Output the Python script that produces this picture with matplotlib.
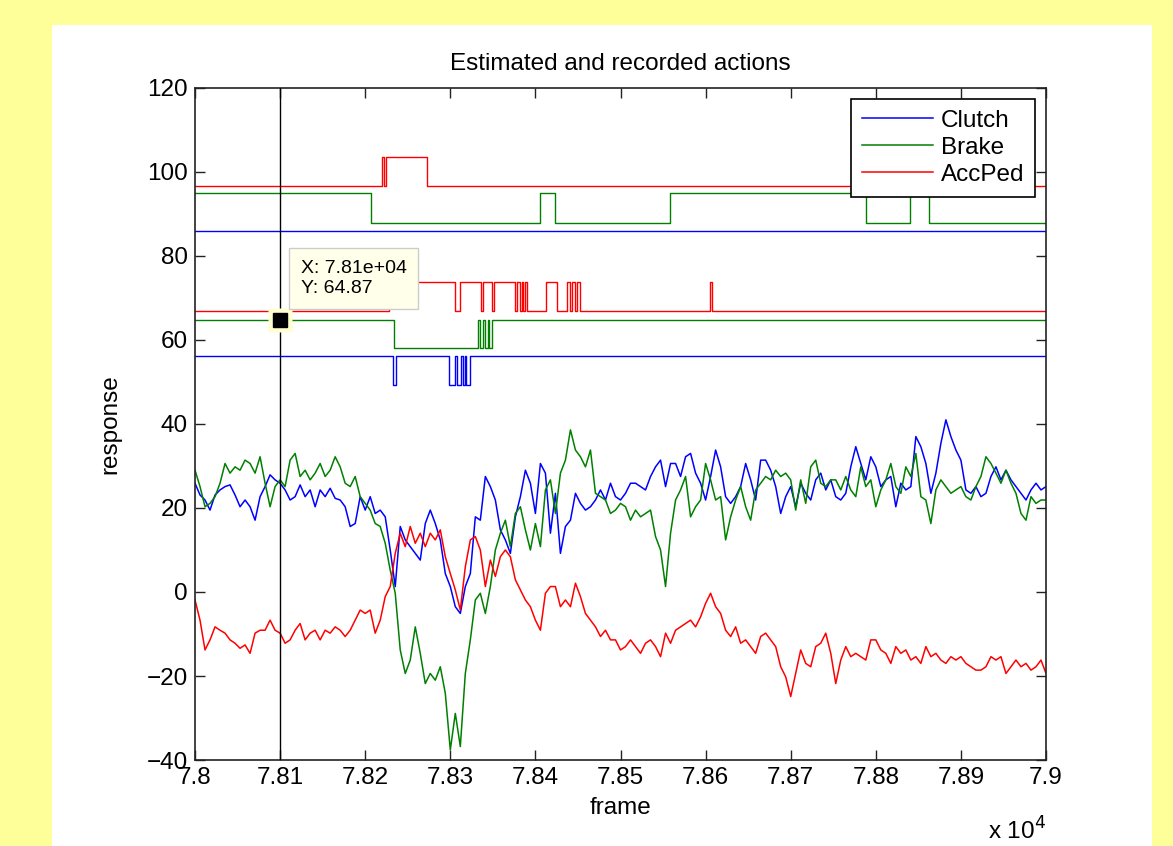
import numpy as np
import matplotlib
matplotlib.use("Agg")
import matplotlib.pyplot as plt
from matplotlib.ticker import FuncFormatter

plt.rcParams['font.family'] = ['Liberation Sans', 'DejaVu Sans']

# ---------------- data ----------------
clutch_est = [25.9, 23.1, 21.9, 19.5, 23.1, 24.3, 25.1, 25.5, 23.1, 20.3, 21.9, 20.3, 17.1, 22.7, 25.1, 27.9, 26.7, 25.9, 24.3, 21.9, 22.7, 25.5, 22.7, 24.3, 20.3, 24.3, 22.7, 24.7, 22.3,
              21.9, 20.3, 15.6, 16.3, 22.7, 19.5, 22.7, 18.7, 19.5, 17.9, 10.0, 1.3, 15.6, 12.4, 10.8, 9.2, 7.6, 16.3, 19.5, 16.3, 12.4, 4.4, 1.3, -3.5, -5.1, 1.3, 4.4, 17.9,
              17.1, 27.5, 25.1, 21.9, 14.8, 12.4, 9.2, 17.9, 22.7, 29.0, 25.9, 18.7, 30.6, 28.3, 14.0, 23.5, 9.2, 15.6, 17.1, 23.5, 21.1, 19.5, 20.3, 21.9, 24.3, 21.9, 25.9, 22.7, 21.9,
              23.5, 25.9, 25.9, 25.1, 24.3, 27.5, 29.8, 31.4, 25.1, 30.6, 30.6, 27.5, 32.2, 33.0, 28.3, 25.9, 21.9, 27.5, 33.8, 29.8, 22.7, 21.1, 22.7, 25.1, 30.6, 26.7, 21.9, 31.4, 31.4,
              29.0, 25.1, 18.7, 22.7, 25.1, 20.3, 25.9, 23.5, 21.9, 26.7, 28.3, 24.3, 26.7, 22.7, 21.9, 23.5, 29.8, 34.6, 30.6, 26.7, 32.2, 29.8, 25.1, 26.7, 27.5, 20.3, 25.9, 24.3,
              25.1, 37.0, 34.6, 30.6, 23.5, 28.3, 35.4, 41.0, 37.0, 33.8, 31.4, 24.3, 23.5, 25.1, 22.7, 23.5, 27.5, 29.8, 26.7, 29.0, 26.7, 25.1, 23.5, 21.9, 24.3, 25.9, 24.3, 25.1]

brake_est = [29.0, 25.1, 20.3, 21.1, 22.7, 25.9, 30.6, 28.3, 29.8, 29.0, 31.4, 30.6, 28.3, 32.2, 25.9, 20.3, 25.1, 26.7, 25.1, 31.4, 33.0, 27.5, 29.0, 26.7, 28.3, 30.6, 27.5, 29.0, 32.2,
             29.8, 25.9, 25.1, 27.5, 22.7, 21.1, 19.5, 16.3, 15.6, 11.6, 5.2, -0.3, -13.8, -19.4, -16.2, -8.3, -14.6, -21.8, -19.4, -21.0, -17.8, -24.1, -37.6, -28.9, -36.8, -19.4, -11.4, -1.9,
             -0.3, -5.1, 1.3, 10.0, 14.0, 17.1, 10.8, 18.7, 20.3, 14.8, 10.0, 16.3, 10.8, 24.3, 26.7, 18.7, 28.3, 31.4, 38.6, 33.8, 32.2, 29.8, 33.8, 23.5, 22.7, 21.9, 18.7, 19.5, 21.1,
             20.3, 17.1, 19.5, 17.9, 18.7, 19.5, 13.2, 10.0, 1.3, 14.0, 21.9, 24.3, 27.5, 17.9, 20.3, 21.9, 30.6, 26.7, 21.9, 22.7, 12.4, 17.9, 21.9, 25.1, 20.3, 17.1, 24.3, 25.9, 27.5,
             26.7, 29.0, 27.5, 28.3, 26.7, 19.5, 26.7, 21.1, 29.8, 31.4, 25.9, 25.1, 26.7, 26.7, 24.3, 27.5, 24.3, 22.7, 29.8, 25.1, 26.7, 20.3, 24.3, 26.7, 30.6, 25.1, 23.5, 29.8,
             27.5, 33.0, 22.7, 21.9, 16.3, 24.3, 26.7, 25.1, 23.5, 24.3, 25.1, 22.7, 21.9, 25.1, 27.5, 32.2, 30.6, 28.3, 25.9, 29.0, 25.9, 23.5, 18.7, 17.1, 22.7, 21.1, 21.9, 21.9]

accped_est = [-1.9, -6.7, -13.8, -11.4, -8.3, -9.1, -9.8, -11.4, -12.2, -13.4, -12.6, -14.6, -9.8, -9.1, -9.1, -6.7, -9.1, -9.8, -12.2, -11.4, -9.1, -7.5, -11.4, -9.8, -9.1, -11.4, -9.1, -9.8, -8.3,
              -9.1, -10.6, -9.1, -6.7, -4.3, -5.1, -4.3, -9.8, -6.7, -1.1, 1.3, 9.2, 14.0, 10.8, 15.6, 11.6, 14.0, 10.8, 14.0, 12.4, 14.8, 8.4, 4.4, 0.5, -4.3, 6.0, 12.4, 13.2,
              10.0, 1.3, 7.6, 3.7, 8.4, 10.0, 8.4, 2.9, 0.5, -1.9, -3.5, -6.7, -9.1, -0.3, 1.3, 1.3, -3.5, -1.9, -3.5, 2.1, -1.1, -5.1, -6.7, -8.3, -10.6, -9.1, -11.4, -11.4, -13.8,
              -13.0, -11.4, -13.0, -14.6, -12.2, -11.4, -13.0, -15.4, -9.8, -12.2, -9.1, -8.3, -7.5, -6.7, -8.3, -5.9, -2.7, -0.3, -3.5, -5.1, -9.1, -10.6, -8.3, -12.2, -11.4, -13.0, -14.6, -10.6, -9.8,
              -11.4, -13.0, -17.8, -20.2, -24.9, -19.4, -13.8, -17.0, -17.8, -13.0, -12.2, -9.8, -14.6, -21.8, -16.2, -13.0, -15.4, -14.6, -15.4, -16.2, -11.4, -11.4, -13.8, -14.6, -17.0, -13.0, -14.6, -13.8,
              -16.2, -15.4, -17.0, -13.0, -15.4, -14.6, -16.2, -17.0, -15.4, -16.2, -15.4, -17.0, -17.8, -18.6, -18.6, -17.8, -15.4, -16.2, -15.4, -19.4, -17.8, -16.2, -17.8, -17.0, -18.6, -17.8, -16.2, -19.4]

frame_start, frame_end = 78000, 79000

# recorded actions (step signals): change frames and levels
accped_hi_x = [78000, 78220, 78222, 78225, 78273, 79000]
accped_hi_y = [96.7, 103.5, 96.7, 103.5, 96.7, 96.7]
brake_hi_x = [78000, 78207, 78405, 78423, 78558, 78788, 78840, 78862, 79000]
brake_hi_y = [94.9, 87.9, 94.9, 87.9, 94.9, 87.9, 94.9, 87.9, 87.9]
clutch_hi_x = [78000, 79000]
clutch_hi_y = [86.0, 86.0]

accped_lo_x = [78000, 78228, 78305, 78311, 78336, 78338, 78349, 78351, 78376, 78378, 78382, 78384, 78386,
               78388, 78390, 78413, 78425, 78437, 78441, 78443, 78447, 78449, 78452, 78605, 78607, 79000]
accped_lo_y = [66.8, 73.7, 66.8, 73.7, 66.8, 73.7, 66.8, 73.7, 66.8, 73.7, 66.8, 73.7, 66.8,
               73.7, 66.8, 73.7, 66.8, 73.7, 66.8, 73.7, 66.8, 73.7, 66.8, 73.7, 66.8, 66.8]
brake_lo_x = [78000, 78234, 78332, 78335, 78338, 78341, 78344, 78346, 78349, 79000]
brake_lo_y = [64.87, 58.0, 64.87, 58.0, 64.87, 58.0, 64.87, 58.0, 64.87, 64.87]
clutch_lo_x = [78000, 78233, 78236, 78299, 78305, 78308, 78312, 78315, 78317, 78319, 78323, 79000]
clutch_lo_y = [56.2, 49.3, 56.2, 49.3, 56.2, 49.3, 56.2, 49.3, 56.2, 49.3, 56.2, 56.2]

tip_x, tip_y = 78100, 64.87
xticks = [78000, 78100, 78200, 78300, 78400, 78500, 78600, 78700, 78800, 78900, 79000]
yticks = [-40, -20, 0, 20, 40, 60, 80, 100, 120]

# ---------------- figure ----------------
W, H = 1173, 846
FS = 17.5
fig = plt.figure(figsize=(W / 100, H / 100), dpi=100)
fig.patch.set_facecolor('#FFFF99')
bg = fig.add_axes([52 / W, 0, 1100 / W, (H - 25) / H], zorder=-10)
bg.set_facecolor('white')
bg.set_xticks([]); bg.set_yticks([])
for s in bg.spines.values():
    s.set_visible(False)

ax = fig.add_axes([195 / W, 1 - 760 / H, (1046 - 195) / W, (760 - 88) / H], zorder=1)
ax.set_facecolor('white')

BLUE, GREEN, RED = '#0000FF', '#008000', '#FF0000'
lw = 1.1

ax.plot(np.linspace(frame_start, frame_end, len(clutch_est)), clutch_est, color=BLUE, lw=lw, label='Clutch')
ax.plot(np.linspace(frame_start, frame_end, len(brake_est)), brake_est, color=GREEN, lw=lw, label='Brake')
ax.plot(np.linspace(frame_start, frame_end, len(accped_est)), accped_est, color=RED, lw=lw, label='AccPed')

for xs, ys, c in [(clutch_hi_x, clutch_hi_y, BLUE), (brake_hi_x, brake_hi_y, GREEN), (accped_hi_x, accped_hi_y, RED),
                  (clutch_lo_x, clutch_lo_y, BLUE), (brake_lo_x, brake_lo_y, GREEN), (accped_lo_x, accped_lo_y, RED)]:
    ax.plot(xs, ys, color=c, lw=1.0, drawstyle='steps-post')

ax.set_xlim(frame_start, frame_end)
ax.set_ylim(-40, 120)
ax.set_xticks(xticks)
ax.set_yticks(yticks)
ax.xaxis.set_major_formatter(FuncFormatter(lambda v, p: f"{v / 1e4:g}"))
ax.tick_params(direction='in', length=7, width=1, top=True, right=True, labelsize=FS, pad=5, colors='#222222')
for lab in ax.get_xticklabels() + ax.get_yticklabels():
    lab.set_color('black')
for s in ax.spines.values():
    s.set_linewidth(1.2)
    s.set_color('#222222')

ax.set_title('Estimated and recorded actions', fontsize=FS, pad=13)
ax.set_xlabel('frame', fontsize=FS, labelpad=6)
ax.set_ylabel('response', fontsize=FS, labelpad=18)
ax.text(1.0, -0.085, r'x 10$^4$', transform=ax.transAxes, ha='right', va='top', fontsize=FS)

# data cursor
ax.axvline(tip_x, color='black', lw=1.0, zorder=5)
ax.plot([tip_x], [tip_y], marker='s', markersize=17, color='#FFFFD0', markeredgecolor='none', zorder=6)
ax.plot([tip_x], [tip_y], marker='s', markersize=10, color='black', zorder=7)
ax.text(78124, 74.7, f"X: {tip_x / 1e4:.2f}e+04\nY: {tip_y:.2f}", fontsize=14, ha='left', va='center',
        linespacing=1.25, zorder=8,
        bbox=dict(boxstyle='square,pad=0.6', facecolor='#FFFFEA', edgecolor='#CCCCCC', lw=1.0))

leg = ax.legend(loc='upper right', fontsize=FS, frameon=True, fancybox=False, framealpha=1,
                edgecolor='black', handlelength=2.9, handletextpad=0.33, labelspacing=0.2,
                borderpad=0.45, borderaxespad=0.45)
leg.get_frame().set_linewidth(1.2)
leg.set_zorder(10)

fig.savefig('out.png', dpi=100, facecolor=fig.get_facecolor())
